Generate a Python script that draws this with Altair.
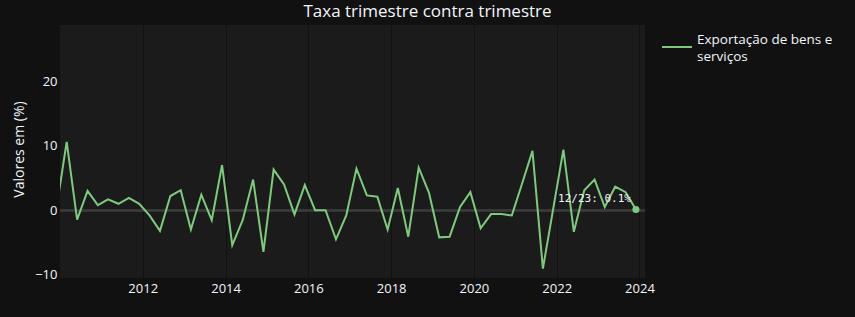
import altair as alt
import pandas as pd

# Quarterly dates (last month of each quarter), Dec/2009 .. Dec/2023
datas = [f"{y}-{m:02d}-01" for y in range(2009, 2024) for m in (3, 6, 9, 12)]
datas = [d for d in datas if "2009-12-01" <= d <= "2023-12-01"]

valores = [
    0.3,
    10.6, -1.45, 3.0, 0.8,
    1.7, 1.0, 1.9, 1.0,
    -0.8, -3.2, 2.2, 3.1,
    -3.0, 2.4, -1.55, 7.0,
    -5.4, -1.55, 4.75, -6.45,
    6.3, 4.0, -0.65, 3.9,
    0.0, 0.0, -4.5, -0.8,
    6.45, 2.3, 2.1, -3.0,
    3.45, -4.1, 6.6, 2.7,
    -4.2, -4.1, 0.5, 2.8,
    -2.8, -0.6, -0.6, -0.8,
    4.1, 9.2, -9.05, 0.2,
    9.4, -3.35, 3.1, 4.75,
    0.5, 3.65, 2.8, 0.1,
]

serie = "Exportação de bens e serviços"
serie_linhas = ["Exportação de bens e", "serviços"]
titulo = "Taxa trimestre contra trimestre"
eixo_y = "Valores em (%)"
anos_ticks = [2012, 2014, 2016, 2018, 2020, 2022, 2024]
y_ticks = [-10, 0, 10, 20]

df = pd.DataFrame({"data": datas, "valor": valores, "serie": serie})
ultimo = df.tail(1).copy()
ultimo["rotulo"] = "12/23: " + ultimo["valor"].map(lambda v: f"{v:.1f}%")

TXT = "#f2f5fa"
FONT = "Open Sans"
COR = "#7fc97f"

x = alt.X(
    "data:T",
    scale=alt.Scale(domain=[alt.DateTime(year=2010, month=1, date=1),
                            alt.DateTime(year=2024, month=2, date=19)]),
    axis=alt.Axis(
        values=[alt.DateTime(year=a, month=1, date=1) for a in anos_ticks],
        format="%Y", title=None, ticks=False, domain=False,
        labelFontSize=13, labelColor=TXT, labelFont=FONT, labelPadding=4,
        gridColor="#111111", gridWidth=1,
    ),
)
y = alt.Y(
    "valor:Q",
    scale=alt.Scale(domain=[-10.5, 28.7], nice=False, zero=False),
    axis=alt.Axis(
        values=y_ticks, title=eixo_y, ticks=False, domain=False,
        labelFontSize=13, labelColor=TXT, labelFont=FONT, labelPadding=3,
        titleFontSize=14, titleColor=TXT, titleFont=FONT, titleFontWeight="normal",
        titleX=-41, titleY=124, titleAlign="center", titleBaseline="middle", titleAngle=-90,
        gridColor="#111111", gridWidth=1,
    ),
)

base = alt.Chart(df)

zero = base.mark_rule(color="#393939", strokeWidth=2).encode(y=alt.datum(0))

linha = base.mark_line(strokeWidth=2, clip=True, color=COR).encode(x=x, y=y)

ponto = alt.Chart(ultimo).mark_point(filled=True, size=50, opacity=1, color=COR).encode(x=x, y=y)

rotulo = alt.Chart(ultimo).mark_text(
    align="right", baseline="middle", dx=-5, dy=-11,
    font="DejaVu Sans Mono", fontSize=11, color=TXT,
).encode(x=x, y=y, text="rotulo:N")

# legend (line swatch + wrapped label)
leg_df = pd.DataFrame({"serie": [serie]})
leg_linha = alt.Chart(leg_df).mark_rule(color=COR, strokeWidth=2).encode(
    x=alt.value(602), x2=alt.value(632), y=alt.value(22)
)
leg_texto = alt.Chart(leg_df).mark_text(
    text=serie_linhas, align="left", baseline="middle", lineHeight=17,
    font=FONT, fontSize=13.5, color=TXT,
).encode(x=alt.value(637), y=alt.value(15))

chart = alt.layer(zero, linha, ponto, rotulo, leg_linha, leg_texto).properties(
    width=585, height=253,
    autosize=alt.AutoSizeParams(type="none"),
    padding={"left": 60, "top": 25, "right": 210, "bottom": 39},
    background="#111111",
    title=alt.Title(titulo, fontSize=17, color=TXT, font=FONT, fontWeight="normal",
                    anchor="middle", dx=75, offset=4),
).configure_view(fill="#1b1b1b", strokeWidth=0)

chart.save("out.html", embed_options={"renderer": "svg", "actions": False})
